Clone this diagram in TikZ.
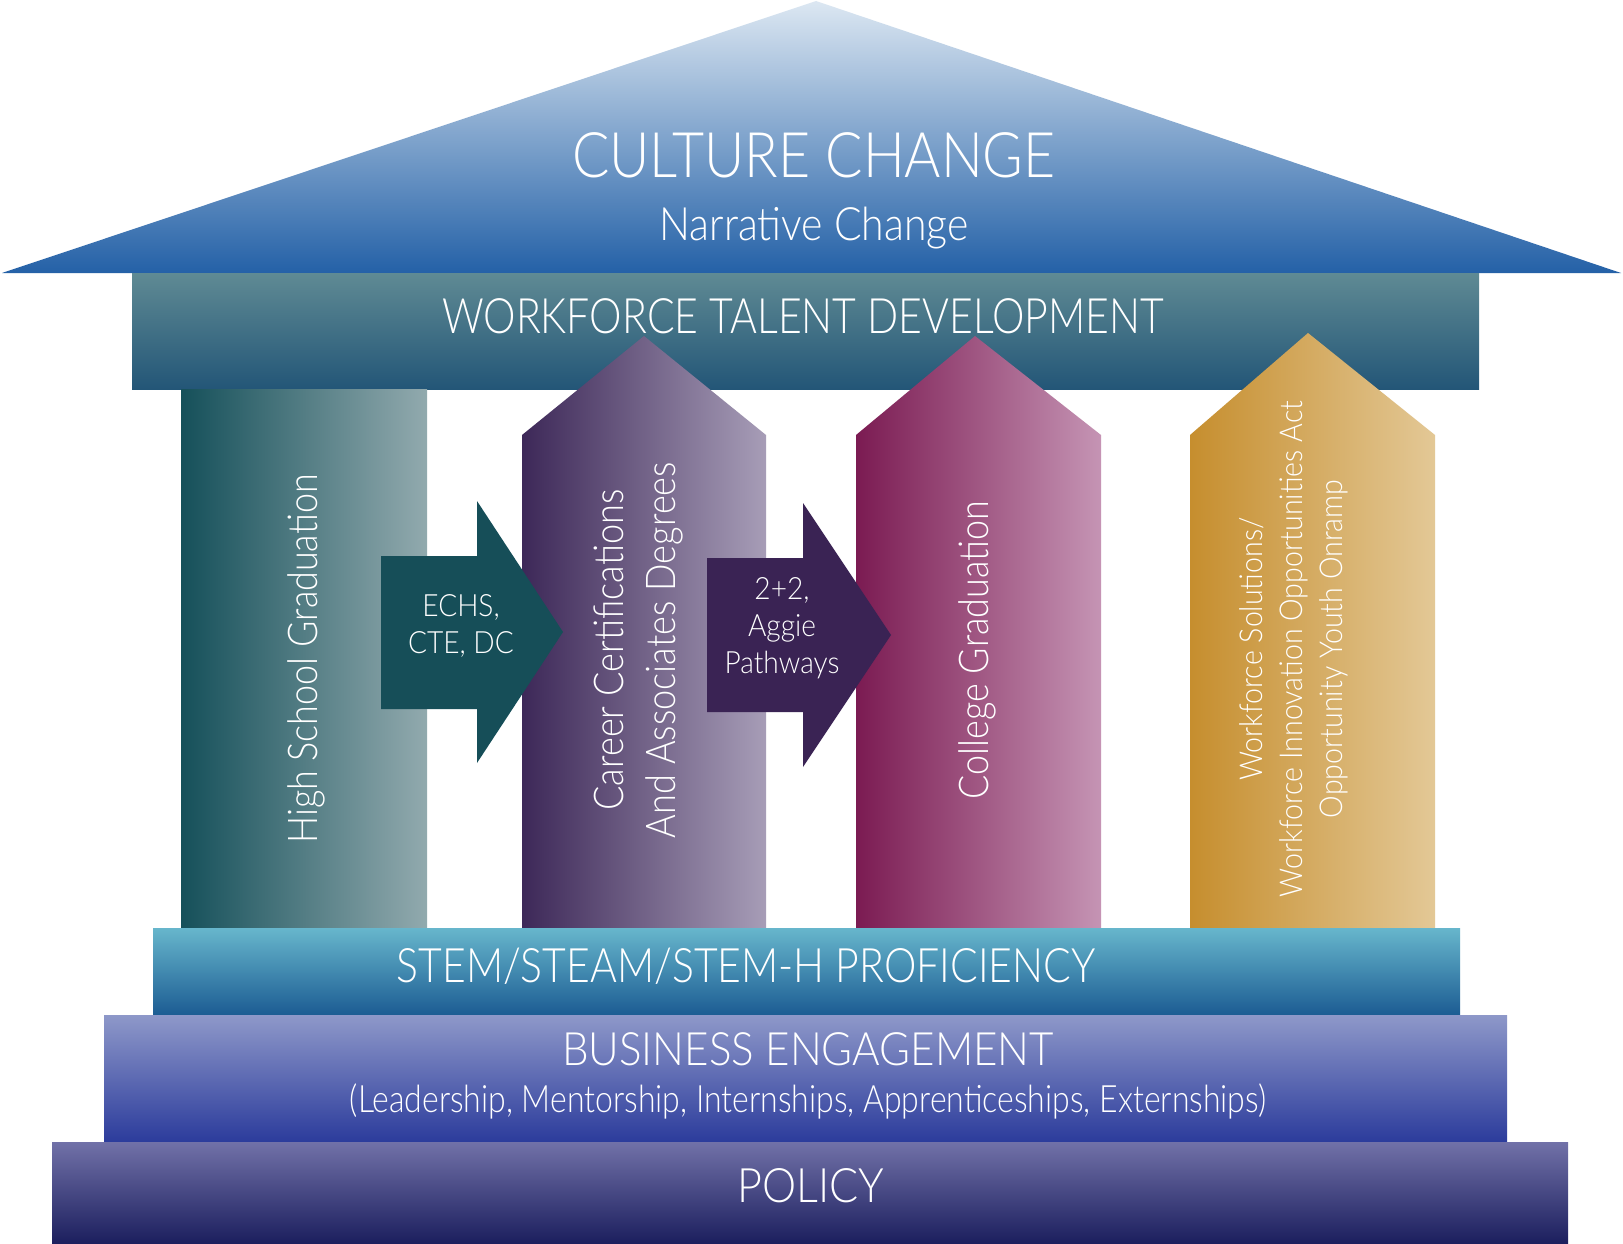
\documentclass[tikz,border=0pt]{standalone}
\usepackage{fontspec}
\IfFontExistsTF{Lato Light}{\setmainfont{Lato Light}[FakeStretch=0.84]}{\setmainfont{TeX Gyre Heros}[FakeStretch=0.78]}
\newcommand{\sx}[2]{\scalebox{#1}[1]{#2}}
\definecolor{roofTop}{HTML}{DCE7F2}
\definecolor{roofMid}{HTML}{6A97CB}
\definecolor{roofBot}{HTML}{2461A7}
\definecolor{wfTop}{HTML}{5F8A94}
\definecolor{wfBot}{HTML}{235677}
\definecolor{pOneL}{HTML}{15505A}
\definecolor{pOneR}{HTML}{92AAAE}
\definecolor{pTwoL}{HTML}{3D2858}
\definecolor{pTwoR}{HTML}{A79DB7}
\definecolor{pThreeL}{HTML}{7B1B52}
\definecolor{pThreeR}{HTML}{C594B4}
\definecolor{pFourL}{HTML}{C68E2E}
\definecolor{pFourR}{HTML}{E3C896}
\definecolor{arOne}{HTML}{164E58}
\definecolor{arTwo}{HTML}{3A2354}
\definecolor{stTop}{HTML}{67B6CC}
\definecolor{stBot}{HTML}{1B5B92}
\definecolor{beTop}{HTML}{8E98C9}
\definecolor{beBot}{HTML}{2A3A9B}
\definecolor{poTop}{HTML}{7171A8}
\definecolor{poBot}{HTML}{1C1F5E}
\begin{document}
\begin{tikzpicture}[x=1pt,y=-1pt,
  txt/.style={text=white,inner sep=0pt,align=center},
  vtxt/.style={txt,rotate=90}]
\useasboundingbox (0,0) rectangle (1623,1244);
\fill[white] (0,0) rectangle (1623,1244);
% roof
\shade[top color=roofTop, middle color=roofMid, bottom color=roofBot]
  (2,273) -- (816,1) -- (1621,273) -- cycle;
% workforce band
\shade[top color=wfTop, bottom color=wfBot] (132,273) rectangle (1479,389);
% pillars
\shade[left color=pOneL, right color=pOneR] (181,389) rectangle (427,930);
\shade[left color=pTwoL, right color=pTwoR]
  (522,930) -- (522,435) -- (644,336) -- (766,435) -- (766,930) -- cycle;
\shade[left color=pThreeL, right color=pThreeR]
  (856,930) -- (856,435) -- (975,336) -- (1101,435) -- (1101,930) -- cycle;
\shade[left color=pFourL, right color=pFourR]
  (1190,930) -- (1190,435) -- (1308,333) -- (1435,435) -- (1435,930) -- cycle;
% arrows
\fill[arOne] (381,556) -- (477,556) -- (477,501) -- (563,632) -- (477,763)
  -- (477,709) -- (381,709) -- cycle;
\fill[arTwo] (707,558) -- (803,558) -- (803,503) -- (891,635) -- (803,767)
  -- (803,712) -- (707,712) -- cycle;
% bottom bands
\shade[top color=stTop, bottom color=stBot] (153,928) rectangle (1460,1016);
\shade[top color=beTop, bottom color=beBot] (104,1015) rectangle (1507,1144);
\shade[top color=poTop, bottom color=poBot] (52,1142) rectangle (1568,1243);
% texts
\node[txt,anchor=base,font=\fontsize{62.8}{70}\selectfont] (culture) at (814,178) {\sx{1.05}{CULTURE CHANGE}};
\node[txt,anchor=base,font=\fontsize{46}{52}\selectfont] (narrative) at (814,240) {\sx{1.06}{Narrative Change}};
\node[txt,anchor=base,font=\fontsize{48.8}{55}\selectfont] (workforce) at (803,333) {WORKFORCE TALENT DEVELOPMENT};
\node[vtxt,font=\fontsize{41}{52}\selectfont] (hs) at (306,659) {\sx{1.044}{High School Graduation}};
\node[vtxt,font=\fontsize{41}{52}\selectfont] (career) at (638,650) {\sx{1.05}{Career Certifications}\\\sx{1.05}{And Associates Degrees}};
\node[vtxt,font=\fontsize{41}{52}\selectfont] (college) at (977,650) {\sx{1.044}{College Graduation}};
\node[vtxt,font=\fontsize{31.5}{40}\selectfont] (wioa) at (1294,649) {\sx{1.08}{Workforce Solutions/}\\\sx{1.08}{Workforce Innovation Opportunities Act}\\\sx{1.08}{Opportunity Youth Onramp}};
\node[txt,font=\fontsize{30.7}{37}\selectfont] (echs) at (461,626) {\sx{1.09}{ECHS,}\\\sx{1.09}{CTE, DC}};
\node[txt,font=\fontsize{30.7}{37}\selectfont] (aggie) at (782,628) {\sx{1.09}{2+2,}\\\sx{1.09}{Aggie}\\\sx{1.09}{Pathways}};
\node[txt,anchor=base,font=\fontsize{47.5}{55}\selectfont] (stem) at (746,982) {\sx{1.026}{STEM/STEAM/STEM-H PROFICIENCY}};
\node[txt,anchor=base,font=\fontsize{46}{52}\selectfont] (business) at (808,1065) {\sx{1.09}{BUSINESS ENGAGEMENT}};
\node[txt,anchor=base,font=\fontsize{37.7}{44}\selectfont] (leadership) at (808,1112) {\sx{1.01}{(Leadership, Mentorship, Internships, Apprenticeships, Externships)}};
\node[txt,anchor=base,font=\fontsize{47.5}{55}\selectfont] (policy) at (811,1202) {\sx{1.08}{POLICY}};
\end{tikzpicture}
\end{document}
